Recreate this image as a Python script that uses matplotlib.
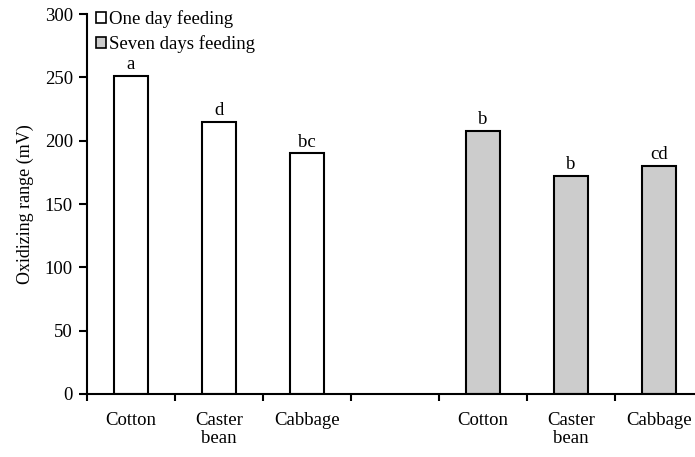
import numpy as np
import matplotlib.pyplot as plt
from matplotlib.patches import Patch

plt.rcParams['font.family'] = ['Liberation Serif', 'DejaVu Serif']

# Dados
plantas = ["Cotton", "Caster\nbean", "Cabbage"]
um_dia = [251, 215, 190]
sete_dias = [208, 172, 180]
letras_um = ["a", "d", "bc"]
letras_sete = ["b", "b", "cd"]
series = ["One day feeding", "Seven days feeding"]

fs = 13.5

fig = plt.figure(figsize=(6.95, 4.57), dpi=100)
ax = fig.add_axes([0.125, 0.138, 0.875, 0.831])

# posições: 3 barras, um espaço vazio, 3 barras
pos_um = np.arange(len(plantas))
pos_sete = pos_um + len(plantas) + 1
w = 0.39

b1 = ax.bar(pos_um, um_dia, w, color='white', edgecolor='black', linewidth=1.5)
b2 = ax.bar(pos_sete, sete_dias, w, color='#cccccc', edgecolor='black', linewidth=1.5)

for rects, letras in ((b1, letras_um), (b2, letras_sete)):
    for r, l in zip(rects, letras):
        ax.annotate(l, (r.get_x() + r.get_width() / 2, r.get_height()),
                    xytext=(0, 2), textcoords='offset points',
                    ha='center', va='bottom', fontsize=fs)

ax.set_ylim(0, 300)
ax.set_yticks(np.arange(0, 301, 50))
ax.set_xlim(-0.5, 6.41)

# marcas entre categorias, rótulos no centro
ax.set_xticks(np.arange(-0.5, 6.0, 1.0))
ax.set_xticklabels([])
ax.set_xticks(np.concatenate([pos_um, pos_sete]), minor=True)
ax.set_xticklabels(plantas + plantas, minor=True, fontsize=fs, linespacing=1.1)
ax.tick_params(axis='x', which='major', direction='out', length=5, width=1.5)
ax.tick_params(axis='x', which='minor', length=0, pad=13)
ax.tick_params(axis='y', direction='out', length=6, width=1.5, labelsize=fs, pad=4)

ax.spines['top'].set_visible(False)
ax.spines['right'].set_visible(False)
ax.spines['left'].set_linewidth(1.5)
ax.spines['bottom'].set_linewidth(1.5)

ax.set_ylabel("Oxidizing range (mV)", fontsize=13, labelpad=8)

handles = [Patch(facecolor='white', edgecolor='black', linewidth=1.2),
           Patch(facecolor='#cccccc', edgecolor='black', linewidth=1.2)]
ax.legend(handles, series, loc='upper left', bbox_to_anchor=(-0.006, 1.045),
          frameon=False, fontsize=fs, handlelength=0.5, handleheight=0.5,
          handletextpad=0.2, labelspacing=0.4, borderpad=0.2)

fig.savefig("out.png", dpi=100)
